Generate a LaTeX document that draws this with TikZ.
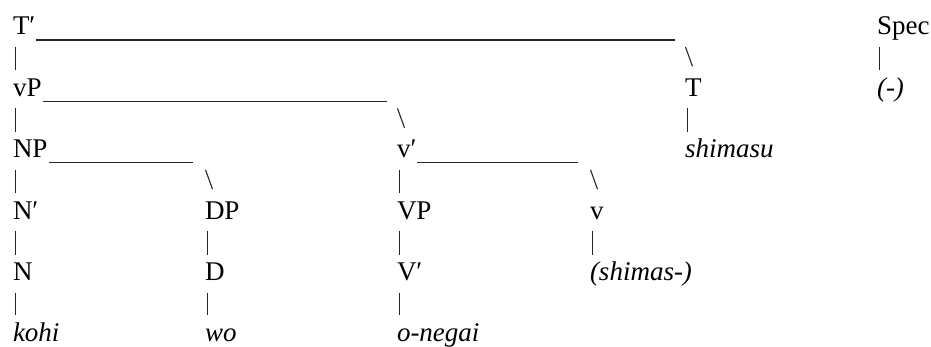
\documentclass[tikz,border=0pt]{standalone}
\usepackage{fontspec}
\setmainfont{Liberation Serif}
\usetikzlibrary{calc}

% vertical bar from a parent label down towards its child
\newcommand\vlink[2]{%
  \draw[branch] ($(#1.base west)+(2.5,-12)$) -- ($(#1.base west |- #2.base)+(2.5,26)$);}
% underscore rule after a parent label, then a backslash down to its right child
\newcommand\hlink[3]{%
  \draw[rule] ($(#1.base east)+(1,-5)$) -- ($(#2.base west |- #1.base)+(-#3,-5)$);
  \draw[slash] ($(#2.base west |- #1.base)+(0.5,-12)$) -- ($(#2.base west)+(7.5,30)$);}

\begin{document}
\begin{tikzpicture}[x=1pt,y=1pt,
  lbl/.style={anchor=base west,inner sep=0pt,outer sep=0pt,font=\fontsize{27}{32}\selectfont},
  word/.style={lbl,font=\fontsize{27}{32}\selectfont\itshape},
  branch/.style={line width=1.2pt,black!85},
  rule/.style={line width=1.1pt,black!85},
  slash/.style={line width=1.1pt,black!85},
]
\useasboundingbox (0,0) rectangle (931,-347);

% row 0
\node[lbl]  (Tp)   at (13,-35)    {T′};
\node[lbl]  (Spec) at (877,-35)   {Spec};
% row 2
\node[lbl]  (vP)   at (13,-96.4)  {vP};
\node[lbl]  (T)    at (685,-96.4) {T};
\node[word] (none) at (877,-96.4) {(-)};
% row 4
\node[lbl]  (NP)   at (13,-157.8) {NP};
\node[lbl]  (vbar) at (397,-157.8){v′};
\node[word] (shimasu) at (685,-157.8) {shimasu};
% row 6
\node[lbl]  (Nbar) at (13,-219.2) {N′};
\node[lbl]  (DP)   at (205,-219.2){DP};
\node[lbl]  (VP)   at (397,-219.2){VP};
\node[lbl]  (v)    at (590,-219.2){v};
% row 8
\node[lbl]  (N)    at (13,-280.6) {N};
\node[lbl]  (D)    at (205,-280.6){D};
\node[lbl]  (Vbar) at (397,-280.6){V′};
\node[word] (shimas) at (590,-280.6) {(shimas-)};
% row 10
\node[word] (kohi)  at (13,-341)  {kohi};
\node[word] (wo)    at (205,-341) {wo};
\node[word] (onegai) at (397,-341){o-negai};

% branches
\vlink{Tp}{vP}   \hlink{Tp}{T}{10}
\vlink{Spec}{none}
\vlink{vP}{NP}   \hlink{vP}{vbar}{10}
\vlink{T}{shimasu}
\vlink{NP}{Nbar} \hlink{NP}{DP}{12}
\vlink{vbar}{VP} \hlink{vbar}{v}{12}
\vlink{Nbar}{N}
\vlink{DP}{D}
\vlink{VP}{Vbar}
\vlink{v}{shimas}
\vlink{N}{kohi}
\vlink{D}{wo}
\vlink{Vbar}{onegai}
\end{tikzpicture}
\end{document}
